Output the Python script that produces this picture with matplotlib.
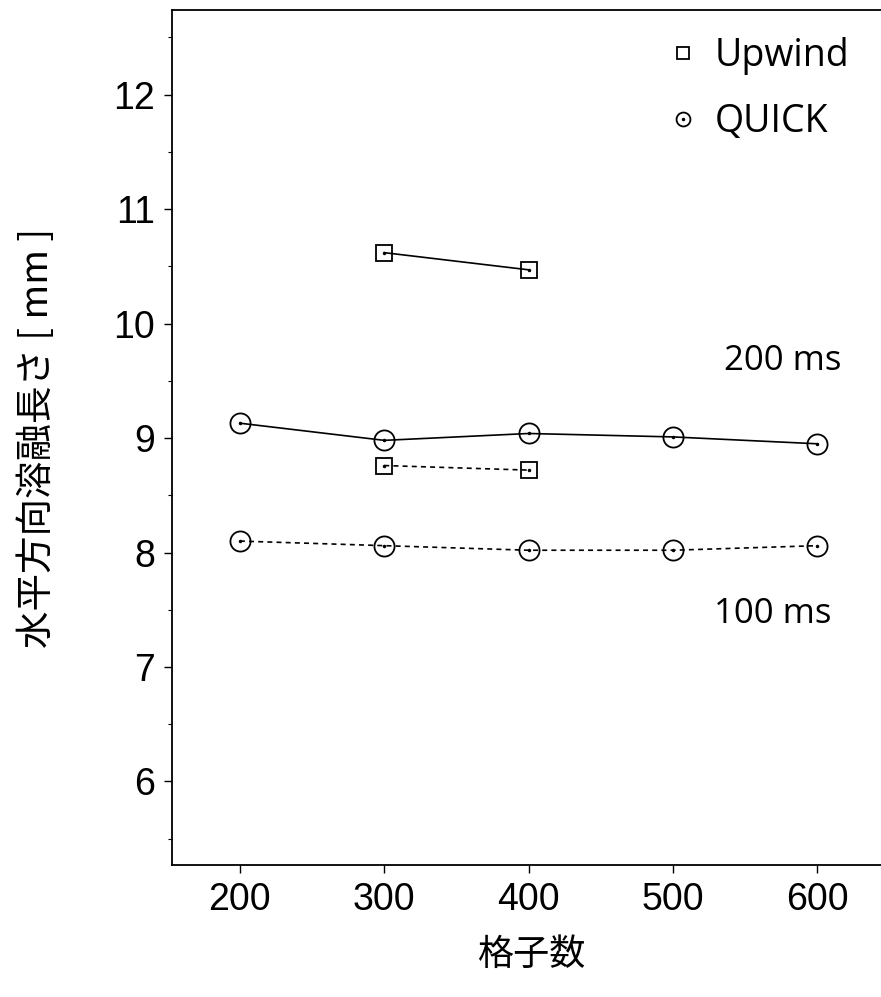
import matplotlib
matplotlib.use("Agg")
import matplotlib.pyplot as plt
from matplotlib.lines import Line2D
from matplotlib.legend_handler import HandlerTuple
from matplotlib.ticker import MultipleLocator

# ---- data ----
grid_quick = [200, 300, 400, 500, 600]
grid_upwind = [300, 400]
upwind_200ms = [10.62, 10.47]
quick_200ms = [9.13, 8.98, 9.04, 9.01, 8.95]
upwind_100ms = [8.76, 8.72]
quick_100ms = [8.10, 8.06, 8.02, 8.02, 8.06]
x_ticks = [200, 300, 400, 500, 600]
y_ticks = [6, 7, 8, 9, 10, 11, 12]
xlabel = "格子数"
ylabel = "水平方向溶融長さ [ mm ]"
legend_labels = ["Upwind", "QUICK"]
annot_200 = "200 ms"
annot_100 = "100 ms"

W, H = 881, 997
fig = plt.figure(figsize=(W / 100, H / 100), dpi=100)
ax = fig.add_axes([172 / W, 1 - 865 / H, 1 - 172 / W, (865 - 10) / H])

lw = 1.2
sq = dict(marker="s", markersize=11.5, markerfacecolor="none",
          markeredgecolor="black", markeredgewidth=1.3, color="black")
ci = dict(marker="o", markersize=14.5, markerfacecolor="none",
          markeredgecolor="black", markeredgewidth=1.3, color="black")
dot = dict(marker=".", markersize=3, color="black", linestyle="none")
dash = (0, (3, 2.5))

ax.plot(grid_upwind, upwind_200ms, linestyle="-", linewidth=lw, **sq)
ax.plot(grid_quick, quick_200ms, linestyle="-", linewidth=lw, **ci)
ax.plot(grid_upwind, upwind_100ms, linestyle=dash, linewidth=lw, **sq)
ax.plot(grid_quick, quick_100ms, linestyle=dash, linewidth=lw, **ci)
for xs, ys in [(grid_upwind, upwind_200ms), (grid_quick, quick_200ms),
               (grid_upwind, upwind_100ms), (grid_quick, quick_100ms)]:
    ax.plot(xs, ys, **dot)

ax.set_xlim(153, 644)
ax.set_ylim(5.27, 12.74)
ax.set_xticks(x_ticks)
ax.set_yticks(y_ticks)
ax.yaxis.set_minor_locator(MultipleLocator(0.5))
ax.tick_params(axis="both", direction="out", length=6, width=1,
               labelsize=27, pad=6)
ax.tick_params(axis="y", which="minor", direction="out", length=3, width=0.8)
for lab in ax.get_xticklabels() + ax.get_yticklabels():
    lab.set_fontfamily("Liberation Sans")
ax.spines["right"].set_visible(False)
for s in ["left", "bottom", "top"]:
    ax.spines[s].set_linewidth(1.3)

cjk = ["Noto Sans CJK JP", "DejaVu Sans"]
fig.text(532 / W, 1 - 955 / H, xlabel, ha="center", va="center",
         fontsize=26, family=cjk)
fig.text(38 / W, 1 - 438 / H, ylabel, ha="center", va="center",
         rotation=90, fontsize=27, family=cjk)

ax.text(576, 9.67, annot_200, ha="center", va="center", fontsize=25,
        family="Open Sans")
ax.text(569, 7.46, annot_100, ha="center", va="center", fontsize=25,
        family="Open Sans")

h_sq = Line2D([], [], marker="s", markersize=9, markerfacecolor="none",
              markeredgecolor="black", markeredgewidth=1.3, linestyle="none")
h_ci = Line2D([], [], marker="o", markersize=10, markerfacecolor="none",
              markeredgecolor="black", markeredgewidth=1.3, linestyle="none")
h_dot = Line2D([], [], marker=".", markersize=3, color="black", linestyle="none")
leg = fig.legend([h_sq, (h_ci, h_dot)], legend_labels,
                 handler_map={tuple: HandlerTuple(ndivide=1)},
                 loc="upper left", bbox_to_anchor=(664 / W, 1 - 37 / H),
                 frameon=False, prop={"family": "Open Sans", "size": 27},
                 handlelength=1.0, handletextpad=0.35, labelspacing=0.74,
                 borderaxespad=0, borderpad=0)

fig.savefig("out.png", dpi=100)
